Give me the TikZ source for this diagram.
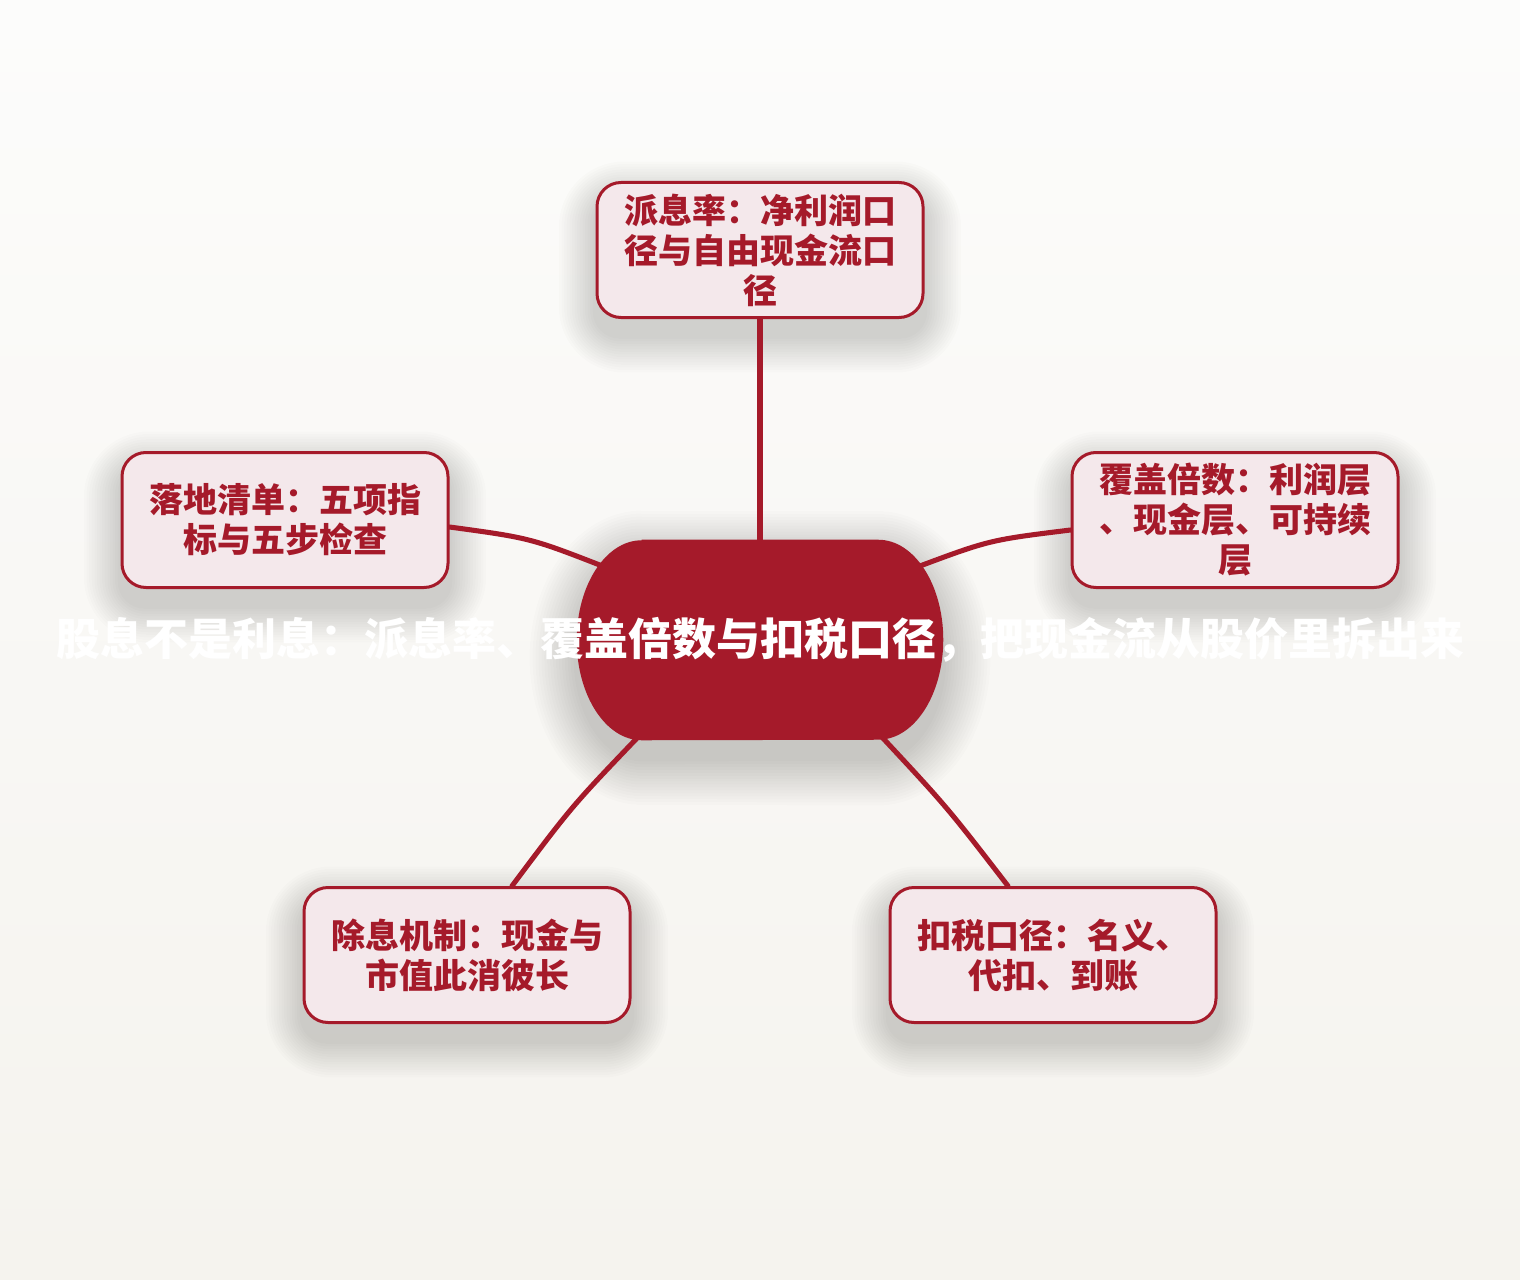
\documentclass[tikz,border=0pt]{standalone}
\usepackage{fontspec}
\newfontfamily\cjk{Noto Sans CJK SC}
\usetikzlibrary{calc}
\definecolor{hubred}{HTML}{A51A2A}
\definecolor{leaffill}{HTML}{F4E8EB}
\definecolor{bgtop}{HTML}{FCFCFB}
\definecolor{bgbot}{HTML}{F5F3EE}
\definecolor{shadowc}{RGB}{70,66,56}
\pgfdeclarelayer{back}
\pgfdeclarelayer{mid}
\pgfsetlayers{back,mid,main}
\tikzset{
  leaf/.style={draw=hubred, line width=2.25pt, fill=leaffill, rounded corners=18pt,
    minimum width=244.5pt, minimum height=101.25pt, inner sep=0pt, align=center,
    text=hubred, font=\cjk\bfseries\fontsize{25.5pt}{30pt}\selectfont},
  link/.style={draw=hubred, line width=3.8pt, line cap=round},
  hubtext/.style={minimum width=274.5pt, minimum height=150pt, inner sep=0pt,
    text=white, font=\cjk\bfseries\fontsize{33pt}{39pt}\selectfont},
  softshade/.style={fill=shadowc, fill opacity=0.016}
}
\begin{document}
\begin{tikzpicture}[x=0.75pt,y=-0.75pt]
\useasboundingbox (0,0) rectangle (1520,1280);
\begin{pgfonlayer}{back}
\fill[top color=bgtop, bottom color=bgbot] (0,0) rectangle (1520,1280);
\end{pgfonlayer}

\node[hubtext] (hub) at (760,640) {\makebox[0pt][c]{\raisebox{-1.5pt}{股息不是利息：派息率、覆盖倍数与扣税口径，把现金流从股价里拆出来}}};

\node[leaf] (top) at (760,250) {派息率：净利润口\\径与自由现金流口\\径};
\node[leaf] (lft) at (285,520) {落地清单：五项指\\标与五步检查};
\node[leaf] (rgt) at (1235,520) {覆盖倍数：利润层\\、现金层、可持续\\层};
\node[leaf] (bl) at (467,955) {除息机制：现金与\\市值此消彼长};
\node[leaf] (br) at (1053,955) {扣税口径：名义、\\代扣、到账};

% soft shadows
\begin{pgfonlayer}{back}
\foreach \n in {top,lft,rgt,bl,br}{
  \foreach \i in {1,...,14}{
    \pgfmathsetmacro{\rr}{18+\i*2.2}
    \fill[softshade, rounded corners=\rr pt]
      ($(\n.south west)+(-\i*2.6,17+\i*2.6)$) rectangle ($(\n.north east)+(\i*2.6,17-\i*2.6)$);
  }
}
\foreach \i in {1,...,16}{
  \pgfmathsetmacro{\rx}{48.75+\i*2.2}
  \pgfmathsetmacro{\ry}{75+\i*2.2}
  \fill[softshade]
    ($(hub.north west)+(65,18-\i*2.9)$) -- ($(hub.north east)+(-65,18-\i*2.9)$)
    arc[start angle=90, end angle=-90, x radius=\rx pt, y radius=\ry pt]
    -- ($(hub.south west)+(65,18+\i*2.9)$)
    arc[start angle=270, end angle=90, x radius=\rx pt, y radius=\ry pt] -- cycle;
}
\end{pgfonlayer}

\begin{pgfonlayer}{mid}
\draw[link] (top.south) -- (hub.north);
\draw[link] ($(lft.east)+(0,7)$) .. controls ($(lft.east)+(81,18)$) .. ($(hub.north west)+(30,28)$);
\draw[link] ($(rgt.west)+(0,10)$) .. controls ($(rgt.west)+(-81,20)$) .. ($(hub.north east)+(-28,28)$);
\draw[link] ($(hub.south west)+(63,-5)$) .. controls ($(hub.south west)+(-5,66)$) .. ($(bl.north)+(45,0)$);
\draw[link] ($(hub.south east)+(-63,-5)$) .. controls ($(hub.south east)+(4,67)$) .. ($(br.north)+(-45,0)$);
\fill[hubred]
  ($(hub.north west)+(65,0)$) -- ($(hub.north east)+(-65,0)$)
  arc[start angle=90, end angle=-90, x radius=48.75pt, y radius=75pt]
  -- ($(hub.south west)+(65,0)$)
  arc[start angle=270, end angle=90, x radius=48.75pt, y radius=75pt] -- cycle;
\end{pgfonlayer}
\end{tikzpicture}
\end{document}
